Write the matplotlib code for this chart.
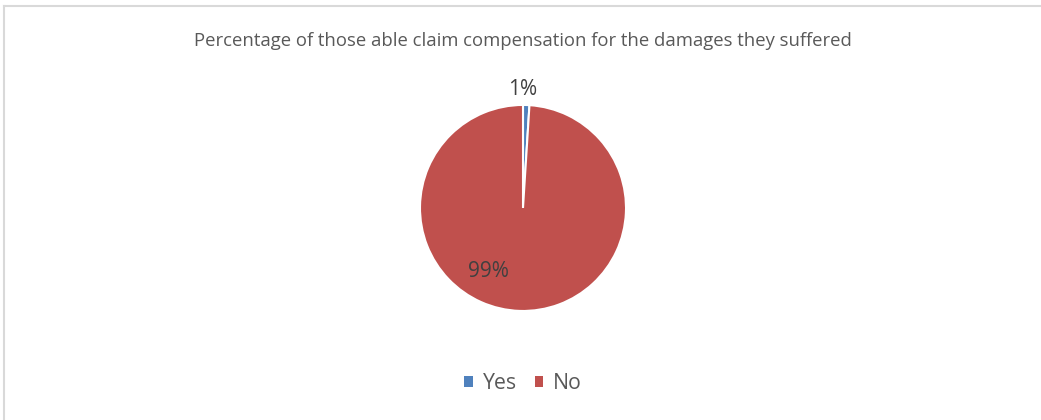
import matplotlib.pyplot as plt
from matplotlib.lines import Line2D
from matplotlib.patches import Patch

title = "Percentage of those able claim compensation for the damages they suffered"
categories = ["Yes", "No"]
shares = [1, 99]
colors = ["#4F81BD", "#C0504D"]

plt.rcParams['font.family'] = ['Open Sans', 'DejaVu Sans']

fig = plt.figure(figsize=(10.41, 4.2), dpi=100)

# chart frame: only the top and left edges show
fig.add_artist(Line2D([0.0035, 1.0], [0.9857, 0.9857], color="#d9d9d9", lw=1.5))
fig.add_artist(Line2D([0.0035, 0.0035], [0.0, 0.9857], color="#d9d9d9", lw=1.5))

fig.text(0.5024, 0.902, title, ha="center", va="center", fontsize=13.3, color="#595959")

ax = fig.add_axes([0.5024 - 0.0995, 0.5048 - 0.2452, 0.199, 0.4905])
wedges, texts, autotexts = ax.pie(
    shares, colors=colors, startangle=90, counterclock=False,
    autopct=lambda p: f"{p:.0f}%",
    wedgeprops=dict(edgecolor="white", linewidth=1.5),
    textprops=dict(fontsize=15, color="#404040"),
)
ax.set_aspect("equal")
ax.set_xlim(-1, 1)
ax.set_ylim(-1, 1)
# label spots as laid out in the chart
autotexts[0].set_position((0.0, 1.15))
autotexts[1].set_position((-0.34, -0.62))

handles = [Patch(facecolor=c, label=l) for c, l in zip(colors, categories)]
fig.legend(handles=handles, loc="center", bbox_to_anchor=(0.5024, 0.086), ncol=2,
           frameon=False, fontsize=15.3, handlelength=0.4, handleheight=0.4,
           handletextpad=0.45, columnspacing=0.85, labelcolor="#595959")

fig.savefig("out.png", dpi=100)
